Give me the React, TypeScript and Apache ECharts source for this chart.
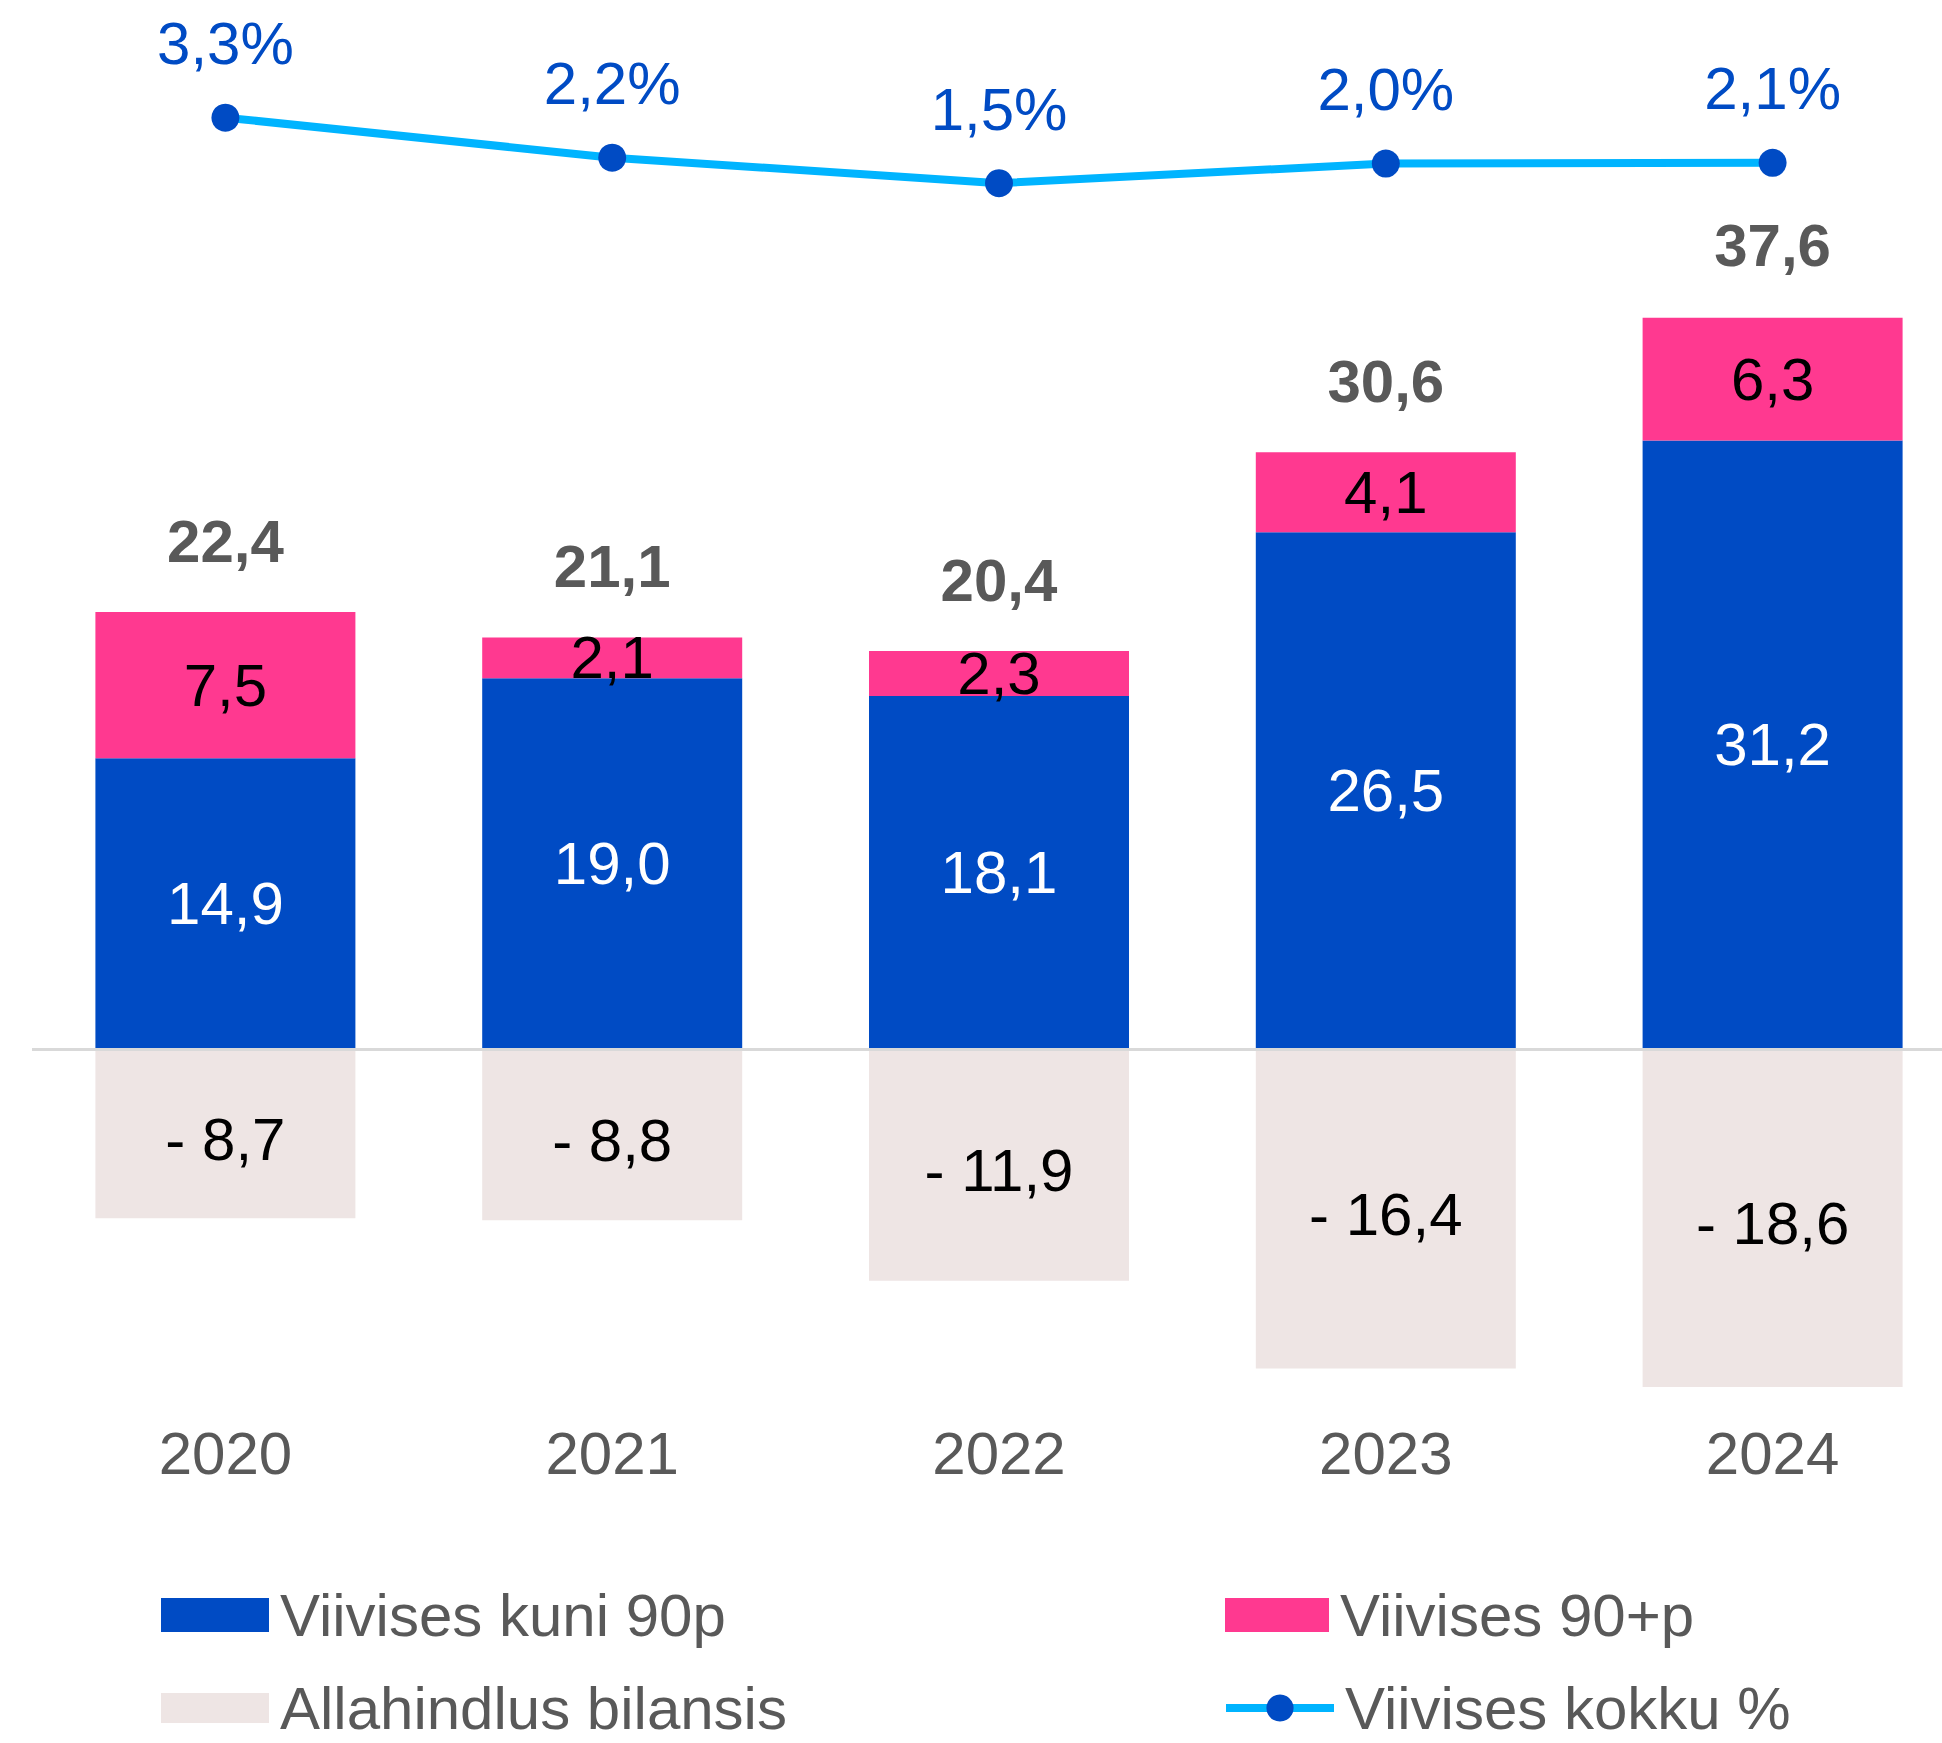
import React, { useEffect, useRef } from "react";
import * as echarts from "echarts";

const categories = ["2020", "2021", "2022", "2023", "2024"];
const upTo90 = [14.9, 19.0, 18.1, 26.5, 31.2];
const over90 = [7.5, 2.1, 2.3, 4.1, 6.3];
const allowance = [-8.7, -8.8, -11.9, -16.4, -18.6];
const totals = [22.4, 21.1, 20.4, 30.6, 37.6];
const overduePct = [3.3, 2.2, 1.5, 2.04, 2.06];

const seriesNames = [
  "Viivises kuni 90p",
  "Viivises 90+p",
  "Allahindlus bilansis",
  "Viivises kokku %",
];

const FONT = "'Liberation Sans', Arial, sans-serif";
const BLUE = "#004BC4";
const PINK = "#FF3990";
const BEIGE = "#EEE5E4";
const LINE = "#00B4FF";
const GREY = "#595959";

const fmt = (v: number) => v.toFixed(1).replace(".", ",");

export default function App() {
  const ref = useRef<HTMLDivElement>(null);

  useEffect(() => {
    if (!ref.current) return;
    const chart = echarts.init(ref.current, null, { renderer: "svg" });

    const legendBase = {
      orient: "horizontal",
      padding: 0,
      itemGap: 0,
      textStyle: {
        fontSize: 60,
        color: GREY,
        fontFamily: FONT,
        padding: [0, 0, 0, 6],
      },
      selectedMode: false,
    };

    chart.setOption({
      animation: false,
      backgroundColor: "#ffffff",
      textStyle: { fontFamily: FONT },
      grid: { left: 32, right: 0, top: 74, bottom: 356, containLabel: false },
      legend: [
        { ...legendBase, data: [{ name: seriesNames[0], icon: "rect" }], left: 161, top: 1585, itemWidth: 108, itemHeight: 34 },
        { ...legendBase, data: [{ name: seriesNames[1], icon: "rect" }], left: 1225, top: 1585, itemWidth: 104, itemHeight: 34 },
        { ...legendBase, data: [{ name: seriesNames[2], icon: "rect" }], left: 161, top: 1678, itemWidth: 108, itemHeight: 30 },
        {
          ...legendBase,
          data: [seriesNames[3]],
          left: 1222,
          top: 1678,
          itemWidth: 108,
          itemHeight: 34,
          lineStyle: { width: 8, color: LINE },
        },
      ],
      xAxis: {
        type: "category",
        data: categories,
        axisLine: { show: false },
        axisTick: { show: false },
        axisLabel: { fontSize: 60, color: GREY, margin: 36, fontFamily: FONT },
        splitLine: { show: false },
      },
      yAxis: [
        { type: "value", min: -17.35, max: 50, show: false, splitLine: { show: false } },
        { type: "value", min: -31.58, max: 4.5, show: false, splitLine: { show: false } },
      ],
      series: [
        {
          name: seriesNames[0],
          type: "bar",
          stack: "a",
          barWidth: 260,
          data: upTo90,
          itemStyle: { color: BLUE },
          label: {
            show: true,
            position: "inside",
            color: "#ffffff",
            fontSize: 60,
            fontFamily: FONT,
            formatter: (p: any) => fmt(p.value),
          },
          z: 2,
        },
        {
          name: seriesNames[1],
          type: "bar",
          stack: "a",
          barWidth: 260,
          data: over90,
          itemStyle: { color: PINK },
          label: {
            show: true,
            position: "inside",
            color: "#000000",
            fontSize: 60,
            fontFamily: FONT,
            formatter: (p: any) => fmt(p.value),
          },
          z: 2,
        },
        {
          name: seriesNames[2],
          type: "bar",
          stack: "a",
          barWidth: 260,
          data: allowance,
          itemStyle: { color: BEIGE },
          label: {
            show: true,
            position: "inside",
            offset: [0, 6],
            color: "#000000",
            fontSize: 60,
            fontFamily: FONT,
            formatter: (p: any) => "- " + fmt(Math.abs(p.value)),
          },
          markLine: {
            silent: true,
            symbol: "none",
            label: { show: false },
            lineStyle: { color: "#D9D9D9", width: 3, type: "solid" },
            data: [{ yAxis: 0 }],
          },
          z: 2,
        },
        {
          name: "totals",
          type: "scatter",
          data: totals,
          symbolSize: 1,
          itemStyle: { color: "rgba(0,0,0,0)", opacity: 1 },
          label: {
            show: true,
            position: "top",
            distance: 40,
            color: GREY,
            fontWeight: "bold",
            fontSize: 60,
            fontFamily: FONT,
            formatter: (p: any) => fmt(p.value),
          },
          z: 3,
        },
        {
          name: seriesNames[3],
          type: "line",
          yAxisIndex: 1,
          data: overduePct,
          symbol: "circle",
          symbolSize: 28,
          lineStyle: { color: LINE, width: 8 },
          itemStyle: { color: BLUE },
          label: {
            show: true,
            position: "top",
            distance: 30,
            color: BLUE,
            fontSize: 60,
            fontFamily: FONT,
            formatter: (p: any) => fmt(p.value) + "%",
          },
          z: 4,
        },
      ],
    });

    return () => chart.dispose();
  }, []);

  return (
    <div
      style={{
        position: "absolute",
        left: 0,
        top: 0,
        width: 1942,
        height: 1743,
        overflow: "hidden",
        background: "#ffffff",
      }}
    >
      <div ref={ref} style={{ width: 1966, height: 1743 }} />
    </div>
  );
}
